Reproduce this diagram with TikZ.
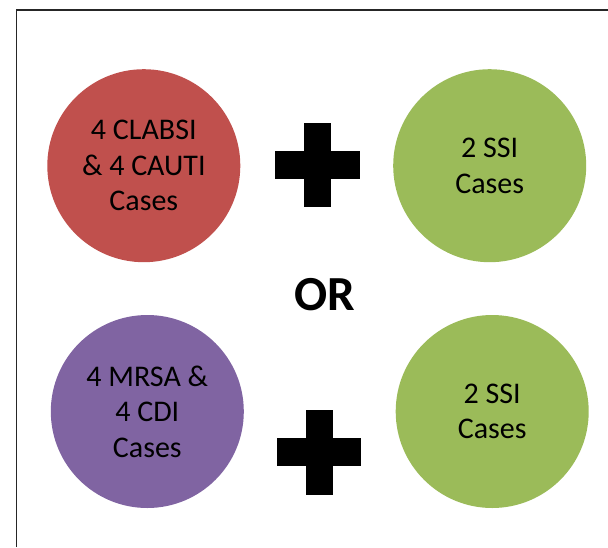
\documentclass[tikz,border=0pt]{standalone}
\usepackage{fontspec}
\setmainfont{Carlito}
\definecolor{cred}{HTML}{C0504D}
\definecolor{cgreen}{HTML}{9BBB59}
\definecolor{cpurple}{HTML}{8064A2}
\begin{document}
\begin{tikzpicture}[x=1pt,y=-1pt,
  blob/.style={circle,minimum size=193pt,inner sep=0pt,align=center,
    font=\fontsize{30}{35.5}\selectfont,text=black},
  plusbar/.style={fill=black}]
\useasboundingbox (0,0) rectangle (608,547);
\draw[line width=1.5pt,color=black!85] (16.5,547) -- (16.5,10) -- (608,10);
\node[blob,fill=cred] (clabsi) at (143.8,165.7) {4 CLABSI\\\& 4 CAUTI\\Cases};
\node[blob,fill=cgreen] (ssia) at (489.7,165.7) {2 SSI\\Cases};
\node[blob,fill=cpurple] (mrsa) at (147.3,411.5) {4 MRSA \&\\4 CDI\\Cases};
\node[blob,fill=cgreen] (ssib) at (492.2,411.5) {2 SSI\\Cases};
\node[font=\bfseries\fontsize{49}{55}\selectfont] (or) at (324.7,295) {OR};
% plus signs
\fill[plusbar] (274.5,150.7) rectangle (359.8,178.6);
\fill[plusbar] (303.6,123.2) rectangle (330.7,206.9);
\fill[plusbar] (276.5,437.9) rectangle (361.4,465.8);
\fill[plusbar] (305.5,410) rectangle (332.7,494.8);
\end{tikzpicture}
\end{document}
